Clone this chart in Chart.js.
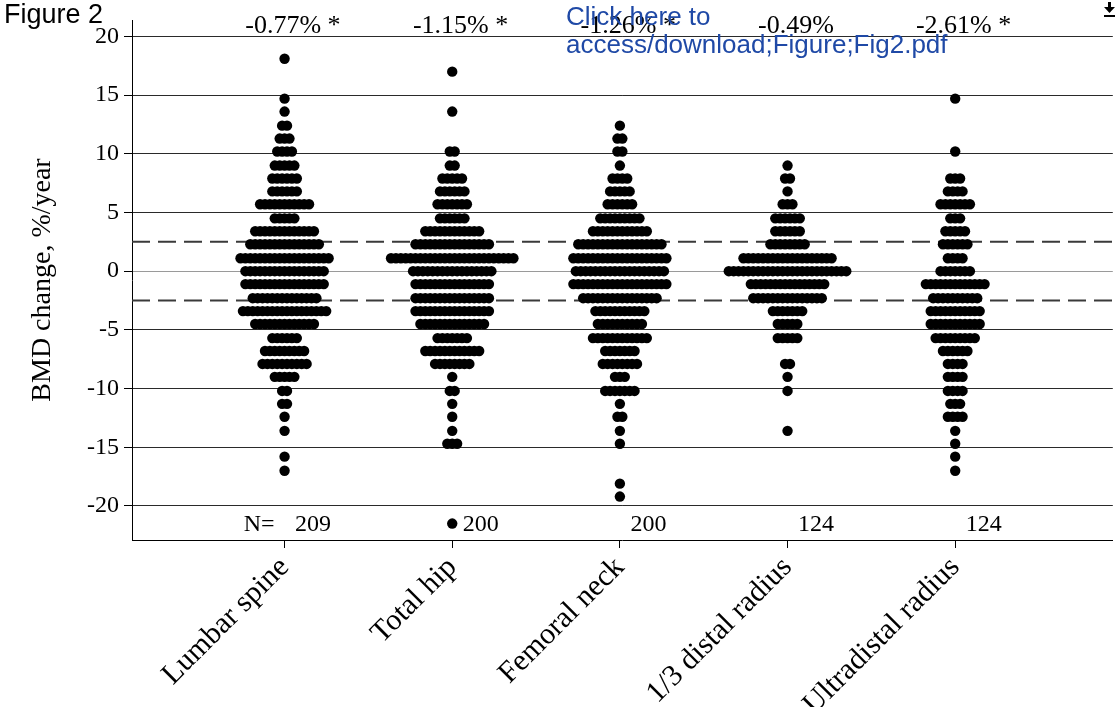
<!DOCTYPE html>
<html>
<head>
<meta charset="utf-8">
<script src="https://cdn.jsdelivr.net/npm/chart.js@4.4.1/dist/chart.umd.min.js"></script>
<style>
html, body { margin: 0; padding: 0; background: #fff; }
#wrap { width: 1118px; height: 707px; position: relative; }
</style>
</head>
<body>
<div id="wrap"><canvas id="bmdChart"></canvas></div>
<script>
const sites = ['Lumbar spine', 'Total hip', 'Femoral neck', '1/3 distal radius', 'Ultradistal radius'];
const meanChange = ['-0.77% *', '-1.15% *', '-1.26% *', '-0.49%', '-2.61% *'];
const nSubjects = [209, 200, 200, 124, 124];
const yTicks = [-20, -15, -10, -5, 0, 5, 10, 15, 20];
const refLines = [2.5, -2.5]; // dashed lines

// dot rows (BMD change, %/year)
const levels = [18.1, 17.0, 15.8, 14.7, 13.6, 12.4, 11.3, 10.2, 9.0, 7.9, 6.8, 5.7, 4.5, 3.4, 2.3, 1.1, 0,
  -1.1, -2.3, -3.4, -4.5, -5.7, -6.8, -7.9, -9.0, -10.2, -11.3, -12.4, -13.6, -14.7, -15.8, -17.0,
  -18.1, -19.2, -20.4, -21.5];

// number of subjects in each row, per site
const lumbarSpine = [1,0,0,1,1,2,3,4,5,6,6,11,5,13,15,19,17,17,14,18,13,6,9,10,5,2,2,1,1,0,1,1,0,0,0,0];
const totalHip    = [0,1,0,0,1,0,0,2,2,5,6,7,6,12,16,26,17,16,16,16,14,7,12,8,1,2,1,1,1,3,0,0,0,0,0,1];
const femoralNeck = [0,0,0,0,0,1,2,2,1,4,5,6,9,12,18,20,19,20,16,11,10,12,7,8,3,7,1,2,1,1,0,0,1,1,0,0];
const distalThird = [0,0,0,0,0,0,0,0,1,2,1,3,6,6,8,19,25,16,15,7,5,5,0,2,1,1,0,0,1,0,0,0,0,0,0,0];
const ultradistal = [0,0,0,1,0,0,0,1,0,3,4,7,3,5,6,4,7,13,10,11,11,9,6,4,4,4,3,4,1,1,1,1,0,0,0,0];

const rowCounts = [lumbarSpine, totalHip, femoralNeck, distalThird, ultradistal];
const dotStep = 0.0292; // horizontal spacing of dots in a row, in category units

const datasets = rowCounts.map((counts, i) => {
  const pts = [];
  counts.forEach((c, k) => {
    for (let j = 0; j < c; j++) {
      pts.push({ x: i + (j - (c - 1) / 2) * dotStep, y: levels[k] });
    }
  });
  return {
    label: sites[i],
    data: pts,
    pointRadius: 5.2,
    pointHoverRadius: 5.2,
    backgroundColor: '#000',
    borderWidth: 0,
    clip: false
  };
});

const serif = '"Liberation Serif", "Times New Roman", serif';
const sans = '"Liberation Sans", Arial, sans-serif';

const extras = {
  id: 'extras',
  beforeDatasetsDraw(chart) {
    const { ctx, chartArea: a, scales: { y } } = chart;
    ctx.save();
    ctx.strokeStyle = '#3a3a3a';
    ctx.lineWidth = 2;
    ctx.setLineDash([18, 8]);
    refLines.forEach(v => {
      const py = y.getPixelForValue(v);
      ctx.beginPath();
      ctx.moveTo(a.left, py);
      ctx.lineTo(a.right, py);
      ctx.stroke();
    });
    ctx.restore();
  },
  afterDraw(chart) {
    const { ctx, scales: { x, y } } = chart;
    ctx.save();
    ctx.fillStyle = '#000';
    ctx.font = '26px ' + serif;
    ctx.textAlign = 'center';
    ctx.textBaseline = 'alphabetic';
    meanChange.forEach((t, i) => {
      ctx.fillText(t, x.getPixelForValue(i + 0.05), y.getPixelForValue(20.25));
    });
    ctx.font = '24px ' + serif;
    const ny = y.getPixelForValue(-22.15);
    ctx.textAlign = 'right';
    ctx.fillText('N=', x.getPixelForValue(0) - 10, ny);
    ctx.textAlign = 'center';
    nSubjects.forEach((n, i) => {
      ctx.fillText(String(n), x.getPixelForValue(i + 0.17), ny);
    });

    // page overlay texts
    ctx.textAlign = 'left';
    ctx.font = '27px ' + sans;
    ctx.fillText('Figure 2', 4, 23);
    ctx.fillStyle = '#1f49a6';
    ctx.font = '26px ' + sans;
    ctx.fillText('Click here to', 566, 25);
    ctx.fillText('access/download;Figure;Fig2.pdf', 566, 53);

    // small download icon
    ctx.fillStyle = '#000';
    ctx.fillRect(1108, 2, 3, 6);
    ctx.beginPath();
    ctx.moveTo(1104, 7); ctx.lineTo(1115, 7); ctx.lineTo(1109.5, 13); ctx.closePath();
    ctx.fill();
    ctx.fillRect(1104, 15, 11, 2);
    ctx.restore();
  }
};

new Chart(document.getElementById('bmdChart'), {
  type: 'scatter',
  data: { datasets },
  options: {
    responsive: true,
    maintainAspectRatio: false,
    animation: false,
    layout: { padding: { top: 20, right: 3, left: 0, bottom: 0 } },
    plugins: {
      legend: { display: false },
      tooltip: { enabled: false }
    },
    scales: {
      x: {
        type: 'linear',
        min: -0.91,
        max: 4.94,
        afterBuildTicks: s => { s.ticks = sites.map((_, i) => ({ value: i })); },
        afterFit: s => { s.height = 167; },
        grid: { drawOnChartArea: false, drawTicks: true, tickLength: 8, tickColor: '#000' },
        border: { display: true, color: '#000', width: 1 },
        ticks: {
          autoSkip: false,
          minRotation: 45,
          maxRotation: 45,
          padding: 2,
          color: '#000',
          font: { family: serif, size: 30 },
          callback: v => sites[v]
        }
      },
      y: {
        min: -22.9,
        max: 21.4,
        afterBuildTicks: s => { s.ticks = yTicks.map(v => ({ value: v })); },
        afterFit: s => { s.width = 132; },
        grid: {
          color: c => (c.tick && c.tick.value === 0 ? '#9a9a9a' : '#2a2a2a'),
          lineWidth: 1,
          drawTicks: true,
          tickLength: 8,
          tickColor: '#000'
        },
        border: { display: true, color: '#000', width: 1 },
        ticks: {
          color: '#000',
          padding: 5,
          font: { family: serif, size: 24 }
        },
        title: {
          display: true,
          text: 'BMD change, %/year',
          color: '#000',
          font: { family: serif, size: 28 },
          padding: { top: 26, bottom: 0 }
        }
      }
    }
  },
  plugins: [extras]
});
</script>
</body>
</html>
